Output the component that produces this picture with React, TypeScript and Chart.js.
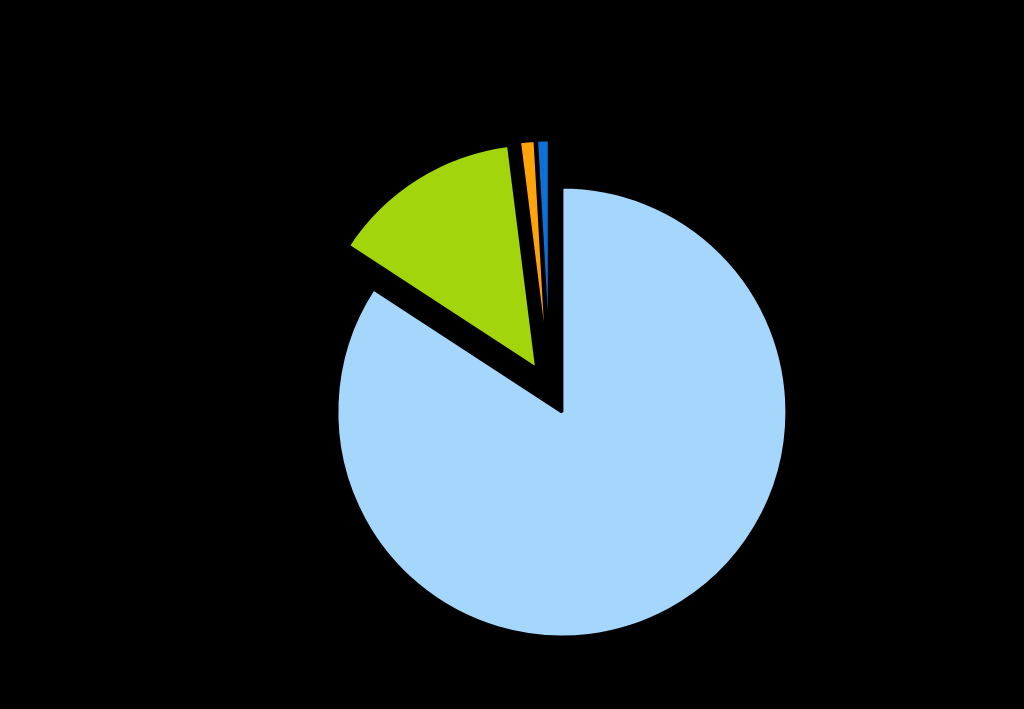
import React, { useEffect, useRef } from "react";
import { Chart, registerables, ArcElement } from "chart.js";

Chart.register(...registerables);

// dados do gráfico (sentido horário a partir do topo)
const categories = ["Categoria A", "Categoria B", "Categoria C", "Categoria D"];
const values = [84.2, 13.8, 1.1, 0.9];
const sliceColors = ["#a5d7fd", "#a2d50c", "#ffa30b", "#0c70d6"];

// desloca todas as fatias para fora ao longo do ângulo médio (efeito "explodido")
const explodePlugin = {
  id: "explodeSlices",
  afterDatasetUpdate(chart: Chart, args: any) {
    const shift = 25;
    const meta = chart.getDatasetMeta(args.index);
    meta.data.forEach((el: any) => {
      const arc = el as ArcElement & { x: number; y: number; startAngle: number; endAngle: number };
      const mid = (arc.startAngle + arc.endAngle) / 2;
      arc.x += Math.cos(mid) * shift;
      arc.y += Math.sin(mid) * shift;
    });
  },
};

const App: React.FC = () => {
  const chartRef = useRef<HTMLCanvasElement | null>(null);
  const chartInstanceRef = useRef<Chart | null>(null);

  useEffect(() => {
    document.body.style.margin = "0";
    document.body.style.background = "#000";

    if (chartRef.current) {
      const ctx = chartRef.current.getContext("2d");
      if (ctx) {
        chartInstanceRef.current = new Chart(ctx, {
          type: "pie",
          data: {
            labels: categories,
            datasets: [
              {
                data: values,
                backgroundColor: sliceColors,
                borderColor: "#000000",
                borderWidth: 3,
              },
            ],
          },
          options: {
            animation: false,
            responsive: true,
            maintainAspectRatio: false,
            events: [],
            radius: 225,
            layout: {
              padding: { left: 76, top: 71, right: 0, bottom: 0 },
            },
            plugins: {
              legend: { display: false },
              tooltip: { enabled: false },
              title: { display: false },
            },
          },
          plugins: [explodePlugin],
        });
      }
    }

    return () => {
      if (chartInstanceRef.current) {
        chartInstanceRef.current.destroy();
        chartInstanceRef.current = null;
      }
    };
  }, []);

  return (
    <div style={{ width: 1024, height: 709, background: "#000", position: "relative" }}>
      <canvas ref={chartRef} />
    </div>
  );
};

export default App;
